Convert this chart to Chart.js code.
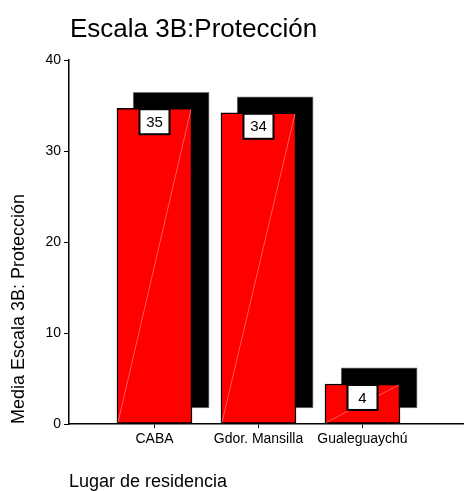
<!DOCTYPE html>
<html>
<head>
<meta charset="utf-8">
<script src="https://cdn.jsdelivr.net/npm/chart.js@4"></script>
<style>
  body { margin: 0; background: #fff; }
  #wrap { width: 464px; height: 491px; position: relative; }
</style>
</head>
<body>
<div id="wrap"><canvas id="myChart"></canvas></div>
<script>
const categories = ['CABA', 'Gdor. Mansilla', 'Gualeguaychú'];
const means = [34.7, 34.2, 4.4];
const yTicks = [0, 10, 20, 30, 40];
const chartTitle = 'Escala 3B:Protección';
const xTitle = 'Lugar de residencia';
const yTitle = 'Media Escala 3B: Protección';

const FONT = "'Liberation Sans', Arial, sans-serif";
// shadow offset in data units (roughly 16px right / 16px up)
const shadowDx = 0.16;
const shadowDy = 1.76;

const barData = means.map((v, i) => ({x: i + 1, y: v}));
const shadowData = means.map((v, i) => ({x: i + 1 + shadowDx, y: [shadowDy, v + shadowDy]}));

const extras = {
  id: 'extras',
  afterDatasetsDraw(chart) {
    const ctx = chart.ctx;
    const meta = chart.getDatasetMeta(0);
    ctx.save();
    meta.data.forEach((bar, i) => {
      const left = bar.x - bar.width / 2;
      const right = bar.x + bar.width / 2;
      // faint diagonal on each bar
      ctx.strokeStyle = 'rgba(255,255,255,0.35)';
      ctx.lineWidth = 1;
      ctx.beginPath();
      ctx.moveTo(left + 1, bar.base - 1);
      ctx.lineTo(right - 1, bar.y + 1);
      ctx.stroke();
      // value box
      const w = 30, h = 25;
      ctx.fillStyle = '#fff';
      ctx.fillRect(bar.x - w / 2, bar.y + 1, w, h);
      ctx.strokeStyle = '#000';
      ctx.lineWidth = 2;
      ctx.strokeRect(bar.x - w / 2, bar.y + 1, w, h);
      ctx.fillStyle = '#000';
      ctx.font = '15px ' + FONT;
      ctx.textAlign = 'center';
      ctx.textBaseline = 'middle';
      ctx.fillText(String(Math.round(means[i])), bar.x, bar.y + 1 + h / 2 + 1);
    });
    ctx.restore();
  },
  afterDraw(chart) {
    const ctx = chart.ctx;
    ctx.save();
    ctx.fillStyle = '#000';
    ctx.font = '26px ' + FONT;
    ctx.textAlign = 'left';
    ctx.textBaseline = 'alphabetic';
    ctx.fillText(chartTitle, chart.chartArea.left + 1, 37);
    ctx.restore();
  }
};

const data = {
  datasets: [{
    data: barData,
    backgroundColor: '#ff0000',
    borderColor: '#000',
    borderWidth: 1.5,
    borderSkipped: false,
    barThickness: 75,
    grouped: false
  }, {
    data: shadowData,
    backgroundColor: '#000',
    borderColor: '#777',
    borderWidth: 1,
    borderSkipped: false,
    barThickness: 76,
    grouped: false
  }]
};

const config = {
  type: 'bar',
  data: data,
  plugins: [extras],
  options: {
    responsive: true,
    maintainAspectRatio: false,
    animation: false,
    layout: { padding: { top: 60, right: 0, bottom: 0, left: 0 } },
    plugins: {
      legend: { display: false },
      tooltip: { enabled: false },
      title: { display: false }
    },
    scales: {
      x: {
        type: 'linear',
        offset: false,
        min: 0.178,
        max: 3.976,
        afterBuildTicks: (scale) => {
          scale.ticks = categories.map((c, i) => ({value: i + 1}));
        },
        afterFit: (scale) => { scale.height = 67; },
        border: { color: '#000', width: 1.5 },
        grid: { offset: false, drawOnChartArea: false, color: '#000', tickLength: 4 },
        ticks: {
          autoSkip: false,
          maxRotation: 0,
          color: '#000',
          padding: 3,
          font: { family: FONT, size: 14 },
          callback: (v) => categories[v - 1]
        },
        title: {
          display: true,
          text: xTitle,
          align: 'start',
          color: '#000',
          padding: { top: 0, bottom: 0 },
          font: { family: FONT, size: 18, lineHeight: 1 }
        }
      },
      y: {
        min: 0,
        max: 40,
        afterBuildTicks: (scale) => {
          scale.ticks = yTicks.map(v => ({value: v}));
        },
        afterFit: (scale) => { scale.width = 69; },
        border: { color: '#000', width: 1.5 },
        grid: { drawOnChartArea: false, color: '#000', tickLength: 5 },
        ticks: {
          color: '#000',
          padding: 3,
          font: { family: FONT, size: 14 }
        },
        title: {
          display: true,
          text: yTitle,
          align: 'start',
          color: '#000',
          padding: { top: 10, bottom: 0 },
          font: { family: FONT, size: 18, lineHeight: 1 }
        }
      }
    }
  }
};

const myChart = new Chart(document.getElementById('myChart'), config);
</script>
</body>
</html>
